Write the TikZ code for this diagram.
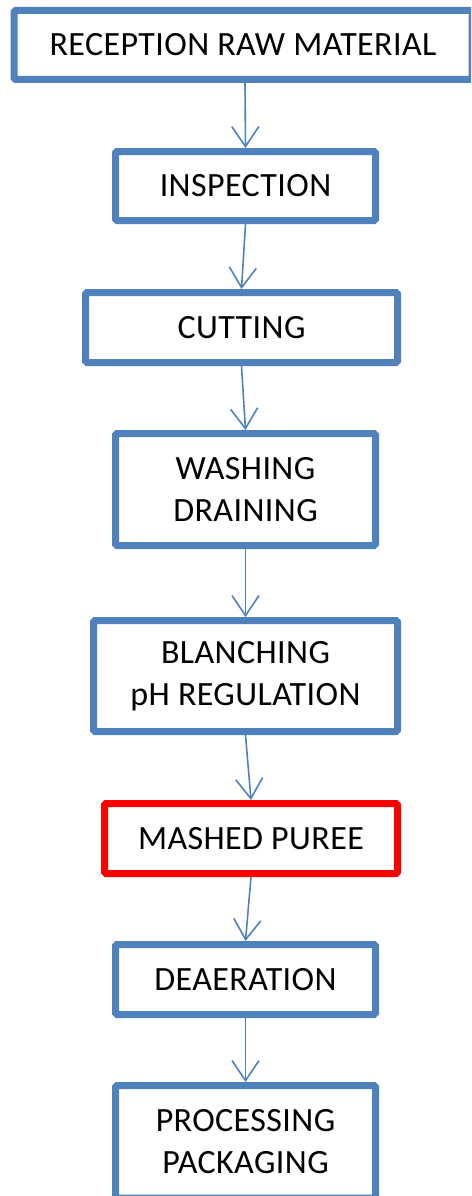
\documentclass[tikz,border=0pt]{standalone}
\usepackage{fontspec}
\setmainfont{Carlito}[LetterSpace=1.2]
\usetikzlibrary{arrows.meta}
\definecolor{boxblue}{RGB}{79,129,189}
\definecolor{boxred}{RGB}{255,0,0}
\begin{document}
\begin{tikzpicture}[x=1pt,y=-1pt,
  stepbox/.style={draw=boxblue, line width=7pt, rounded corners=1.5pt, fill=white,
    inner sep=0pt, align=center, text=black,
    font=\fontsize{34}{42}\selectfont},
  redbox/.style={stepbox, draw=boxred},
  flow/.style={draw=boxblue, line width=1.6pt,
    -{Straight Barb[length=20pt,width=27pt,line width=1.6pt]}}]
\useasboundingbox (0,0) rectangle (471,1196);
\clip (0,0) rectangle (471,1196);
\node[stepbox, minimum width=458pt, minimum height=69pt] (b1) at (243,45) {RECEPTION RAW MATERIAL};
\node[stepbox, minimum width=260pt, minimum height=69pt] (b2) at (245.5,186) {INSPECTION};
\node[stepbox, minimum width=312pt, minimum height=70pt] (b3) at (241.5,327.5) {CUTTING};
\node[stepbox, minimum width=260pt, minimum height=112pt] (b4) at (245.5,489.5) {WASHING\\DRAINING};
\node[stepbox, minimum width=304pt, minimum height=111pt] (b5) at (245.5,676) {BLANCHING\\pH REGULATION};
\node[redbox, minimum width=293pt, minimum height=70pt] (b6) at (251,838.5) {MASHED PUREE};
\node[stepbox, minimum width=260pt, minimum height=70pt] (b7) at (245.5,979.5) {DEAERATION};
\node[stepbox, minimum width=260pt, minimum height=112.5pt] (b8) at (245.5,1141.75) {PROCESSING\\PACKAGING};
\draw[flow] ([xshift=2pt]b1.south) -- (b2.north);
\draw[flow] (b2.south) -- (b3.north);
\draw[flow] (b3.south) -- (b4.north);
\draw[flow] (b4.south) -- (b5.north);
\draw[flow] (b5.south) -- (b6.north);
\draw[flow] (b6.south) -- (b7.north);
\draw[flow] (b7.south) -- (b8.north);
\end{tikzpicture}
\end{document}
